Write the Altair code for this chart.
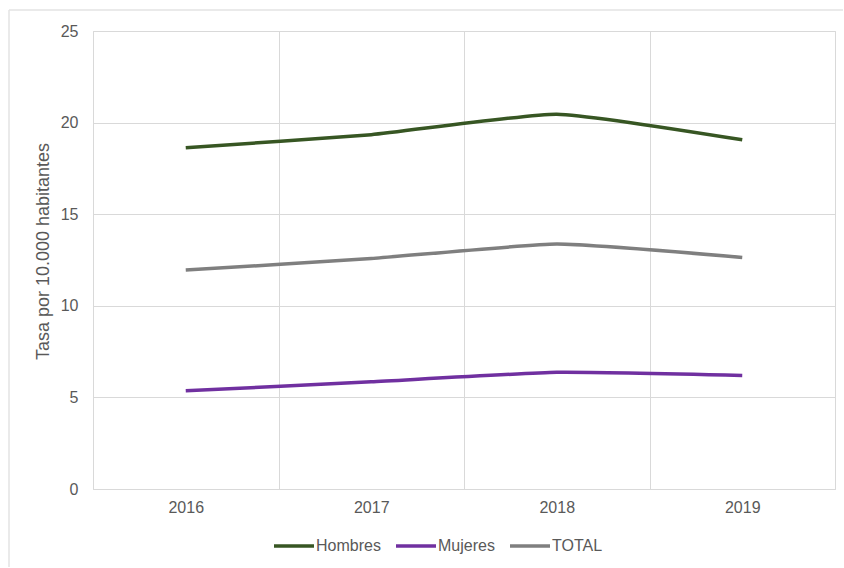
import altair as alt
import pandas as pd

years = [2016, 2017, 2018, 2019]
hombres = [18.63, 19.34, 20.46, 19.06]
mujeres = [5.36, 5.85, 6.37, 6.20]
total = [11.95, 12.58, 13.37, 12.64]

series = ["Hombres", "Mujeres", "TOTAL"]
colors = ["#375623", "#7030A0", "#7F7F7F"]

rows = []
for name, vals in zip(series, [hombres, mujeres, total]):
    for y, v in zip(years, vals):
        rows.append({"Año": y, "Serie": name, "Tasa": v})
df = pd.DataFrame(rows)

FONT = "Liberation Sans"
GRAY = "#595959"
GRID = "#d9d9d9"

grid_values = [2015.5, 2016, 2016.5, 2017, 2017.5, 2018, 2018.5, 2019, 2019.5]

lines = alt.Chart(df).mark_line(strokeWidth=3.5, interpolate="cardinal", tension=0.55).encode(
    x=alt.X(
        "Año:Q",
        scale=alt.Scale(domain=[2015.5, 2019.5], nice=False, zero=False),
        axis=alt.Axis(
            title=None,
            values=grid_values,
            labelExpr="datum.value % 1 == 0 ? datum.value : ''",
            gridOpacity={"condition": {"test": "datum.value % 1 == 0", "value": 0}, "value": 1},
            grid=True,
            gridColor=GRID,
            ticks=False,
            domain=False,
            labelPadding=10,
            labelFont=FONT,
            labelFontSize=16,
            labelColor=GRAY,
        ),
    ),
    y=alt.Y(
        "Tasa:Q",
        scale=alt.Scale(domain=[0, 25], nice=False),
        axis=alt.Axis(
            title="Tasa por 10.000 habitantes",
            values=[0, 5, 10, 15, 20, 25],
            grid=True,
            gridColor=GRID,
            ticks=False,
            domain=False,
            labelPadding=15,
            labelFont=FONT,
            labelFontSize=16,
            labelColor=GRAY,
            titleFont=FONT,
            titleFontSize=18,
            titleFontWeight="normal",
            titleColor=GRAY,
            titleX=-50,
            titleY=220,
            titleAngle=270,
            titleAlign="center",
            titleBaseline="middle",
        ),
    ),
    color=alt.Color(
        "Serie:N",
        scale=alt.Scale(domain=series, range=colors),
        legend=alt.Legend(
            title=None,
            orient="none",
            direction="horizontal",
            legendX=179,
            legendY=493,
            symbolType="stroke",
            symbolSize=1600,
            symbolStrokeWidth=3.5,
            labelFont=FONT,
            labelFontSize=16,
            labelColor=GRAY,
            labelOffset=0,
            columnPadding=8,
            padding=0,
        ),
    ),
)

one = alt.Data(values=[{}])
frame_top = alt.Chart(one).mark_rule(color="#e3e3e3", strokeWidth=1.5).encode(
    x=alt.value(-84), x2=alt.value(750), y=alt.value(-21)
)
frame_left = alt.Chart(one).mark_rule(color="#e3e3e3", strokeWidth=1.5).encode(
    x=alt.value(-84), y=alt.value(-21), y2=alt.value(536)
)

chart = alt.layer(frame_top, frame_left, lines).properties(
    width=742,
    height=458,
    padding={"left": 8, "top": 9, "right": 0, "bottom": 0},
    background="white",
).configure_view(stroke=GRID, strokeWidth=1)

chart.save("out.html", embed_options={"renderer": "svg", "actions": False})
